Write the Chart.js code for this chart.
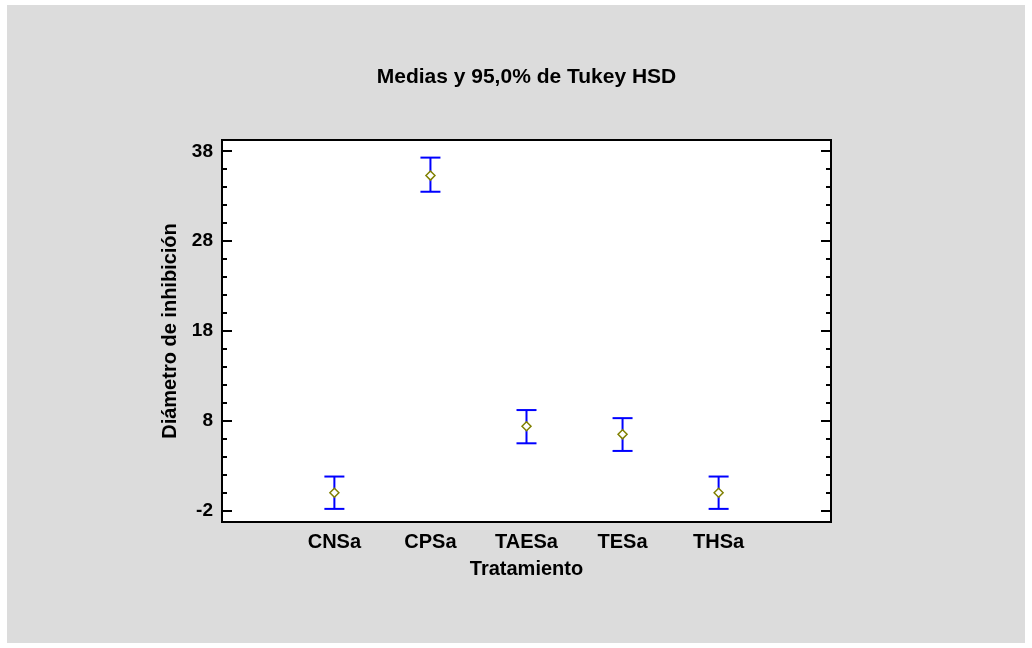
<!DOCTYPE html>
<html>
<head>
<meta charset="utf-8">
<script src="https://cdn.jsdelivr.net/npm/chart.js@4.4.1/dist/chart.umd.min.js"></script>
<style>
  html, body { margin: 0; padding: 0; background: #fff; }
  #wrap { position: absolute; left: 0; top: 0; width: 1032px; height: 648px; }
</style>
</head>
<body>
<div id="wrap"><canvas id="chart" width="1032" height="648"></canvas></div>
<script>
// Data
const categories = ['CNSa', 'CPSa', 'TAESa', 'TESa', 'THSa'];
const means = [0.0, 35.3, 7.4, 6.5, 0.0];
const lower = [-1.8, 33.5, 5.5, 4.65, -1.8];
const upper = [1.8, 37.3, 9.2, 8.3, 1.8];
const yTicks = [-2, 8, 18, 28, 38];
const yMinorStep = 2;

const FONT = 'Liberation Sans, Arial, sans-serif';

// background panel + framed plot area with inward ticks
const framePlugin = {
    id: 'frame',
    beforeDraw(chart) {
        const { ctx, chartArea: a } = chart;
        ctx.save();
        ctx.fillStyle = '#ffffff';
        ctx.fillRect(0, 0, chart.width, chart.height);
        ctx.fillStyle = '#dcdcdc';
        ctx.fillRect(7, 5, 1018, 638);
        ctx.fillStyle = '#ffffff';
        ctx.fillRect(a.left, a.top, a.right - a.left, a.bottom - a.top);
        ctx.restore();
    },
    afterDraw(chart) {
        const { ctx, chartArea: a } = chart;
        const y = chart.scales.y;
        ctx.save();
        ctx.strokeStyle = '#000';
        ctx.lineWidth = 2;
        ctx.strokeRect(a.left, a.top, a.right - a.left, a.bottom - a.top);
        ctx.beginPath();
        for (let v = yTicks[0]; v <= yTicks[yTicks.length - 1]; v += yMinorStep) {
            const p = Math.round(y.getPixelForValue(v));
            const len = yTicks.includes(v) ? 10 : 5;
            ctx.moveTo(a.left, p); ctx.lineTo(a.left + len, p);
            ctx.moveTo(a.right, p); ctx.lineTo(a.right - len, p);
        }
        ctx.stroke();
        ctx.restore();
    }
};

// error bar stems, broken between categories
const stems = [];
categories.forEach((c, i) => {
    stems.push({ x: i, y: lower[i] }, { x: i, y: upper[i] }, { x: i, y: null });
});
const caps = [];
categories.forEach((c, i) => {
    caps.push({ x: i, y: lower[i] }, { x: i, y: upper[i] });
});

new Chart(document.getElementById('chart'), {
    type: 'scatter',
    data: {
        datasets: [
            {
                label: 'Media',
                data: means.map((m, i) => ({ x: i, y: m })),
                pointStyle: 'rectRot',
                pointRadius: 4.5,
                borderWidth: 1.5,
                borderColor: '#808000',
                backgroundColor: '#ffffff'
            },
            {
                label: 'caps',
                data: caps,
                pointStyle: 'line',
                pointRadius: 10,
                borderWidth: 2,
                borderColor: '#0000ff',
                backgroundColor: '#0000ff'
            },
            {
                type: 'line',
                label: 'stems',
                data: stems,
                borderColor: '#0000ff',
                borderWidth: 2,
                pointRadius: 0,
                spanGaps: false,
                fill: false
            }
        ]
    },
    options: {
        responsive: false,
        animation: false,
        layout: {
            autoPadding: false,
            padding: { left: 150, right: 201, top: 0, bottom: 60 }
        },
        plugins: {
            legend: { display: false },
            tooltip: { enabled: false },
            title: {
                display: true,
                fullSize: false,
                text: 'Medias y 95,0% de Tukey HSD',
                color: '#000',
                font: { family: FONT, size: 21, weight: 'bold', lineHeight: '25px' },
                padding: { top: 65, bottom: 50 }
            }
        },
        scales: {
            x: {
                type: 'linear',
                min: -1.17,
                max: 5.17,
                afterBuildTicks: s => { s.ticks = categories.map((c, i) => ({ value: i })); },
                afterFit: s => { s.height = 66; },
                grid: { display: false, drawTicks: false },
                border: { display: false },
                ticks: {
                    autoSkip: false,
                    maxRotation: 0,
                    padding: 8,
                    color: '#000',
                    font: { family: FONT, size: 20, weight: 'bold' },
                    callback: v => categories[v]
                },
                title: {
                    display: true,
                    text: 'Tratamiento',
                    color: '#000',
                    font: { family: FONT, size: 20, weight: 'bold', lineHeight: '24px' },
                    padding: { top: 0, bottom: 7 }
                }
            },
            y: {
                type: 'linear',
                min: -3.26,
                max: 39.26,
                afterBuildTicks: s => { s.ticks = yTicks.map(v => ({ value: v })); },
                afterFit: s => { s.width = 72; },
                grid: { display: false, drawTicks: false },
                border: { display: false },
                ticks: {
                    padding: 9,
                    color: '#000',
                    font: { family: FONT, size: 19, weight: 'bold' }
                },
                title: {
                    display: true,
                    text: 'Diámetro de inhibición',
                    color: '#000',
                    font: { family: FONT, size: 20, weight: 'bold', lineHeight: '24px' },
                    padding: { top: 8, bottom: 0 }
                }
            }
        }
    },
    plugins: [framePlugin]
});
</script>
</body>
</html>
